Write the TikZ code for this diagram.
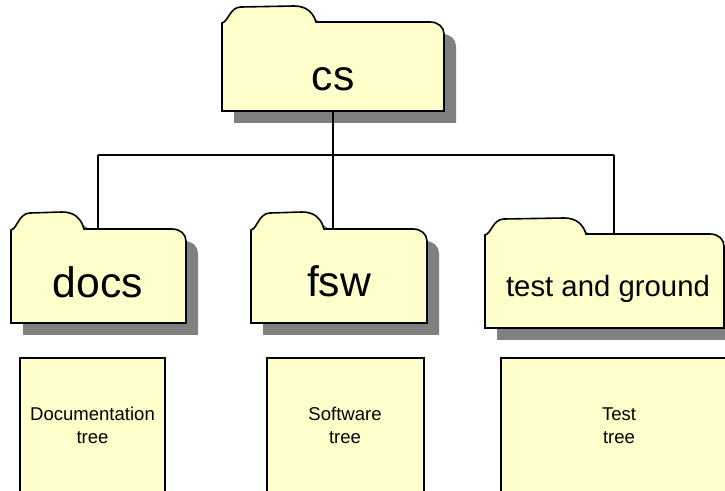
\documentclass[tikz,border=0pt]{standalone}
\usepackage{fontspec}
\setmainfont{Liberation Sans}
\definecolor{folderfill}{HTML}{FFFFCC}
\definecolor{foldershadow}{HTML}{808080}
\tikzset{
	px/.style={x=0.75pt,y=-0.75pt},
	treeline/.style={draw=black,line width=1.2pt},
	foldername/.style={font=\fontsize{32}{36}\selectfont},
	treebox/.style={draw=black,line width=1.2pt,fill=folderfill},
	treetext/.style={align=center,font=\fontsize{13.9}{17.25}\selectfont},
}
% left, top, right, step, bottom, end of tab
\newcommand{\folderpath}[6]{
	(#1,#5) -- (#1,#4+1) .. controls (#1+6,#4) and (#1+8,#2+1) .. (#1+19,#2+1)
	-- (#6-22,#2) .. controls (#6-10,#2) and (#6-3,#2+6) .. (#6,#4)
	-- (#3-14,#4) .. controls (#3-6,#4) and (#3,#4+5) .. (#3,#4+12) -- (#3,#5) -- cycle
}
\newcommand{\folder}[7]{
	\fill[foldershadow,shift={(12,12)}] \folderpath{#2}{#3}{#4}{#5}{#6}{#7};
	\path[treebox] \folderpath{#2}{#3}{#4}{#5}{#6}{#7};
	\coordinate (#1) at (#4/2+#2/2,#5);
}
\begin{document}
\begin{tikzpicture}[px]
	\useasboundingbox (0,0) rectangle (725,491);
	\begin{scope}
	\clip (0,0) rectangle (725,491);

	\coordinate (busl) at (98,155);
	\coordinate (busm) at (333,155);
	\coordinate (busr) at (614,155);
	\coordinate (csout) at (333,111);
	\coordinate (docsin) at (98,229);
	\coordinate (fswin) at (333,229);
	\coordinate (testin) at (614,234);

	\folder{docs}{11}{212}{186}{229}{323}{84}
	\folder{fsw}{251}{212}{427}{229}{323}{324}
	\folder{test}{485}{218}{724}{234}{328}{586}
	\folder{cs}{222}{6}{444}{22}{111}{316}

	\draw[treeline]
	(busl) -- (busr)
	(csout) -- (busm)
	(busm) -- (fswin)
	(busl) -- (docsin)
	(busr) -- (testin)
	;

	\node (cslabel) at (333,79) [foldername] {cs};
	\node (docslabel) at (98,282) [foldername] {docs};
	\node (fswlabel) at (339,281) [foldername] {fsw};
	\node (testlabel) at (608,289) [foldername,font=\fontsize{22}{26}\selectfont] {test and ground};

	\path[treebox] (20,358) rectangle (165,495);
	\path[treebox] (267,358) rectangle (424,495);
	\path[treebox] (501,358) rectangle (730,495);

	\node (docstree) at (92.5,425) [treetext] {Documentation\\tree};
	\node (fswtree) at (345,425) [treetext] {Software\\tree};
	\node (testtree) at (619,426) [treetext] {Test\\tree};
	\end{scope}
\end{tikzpicture}
\end{document}
